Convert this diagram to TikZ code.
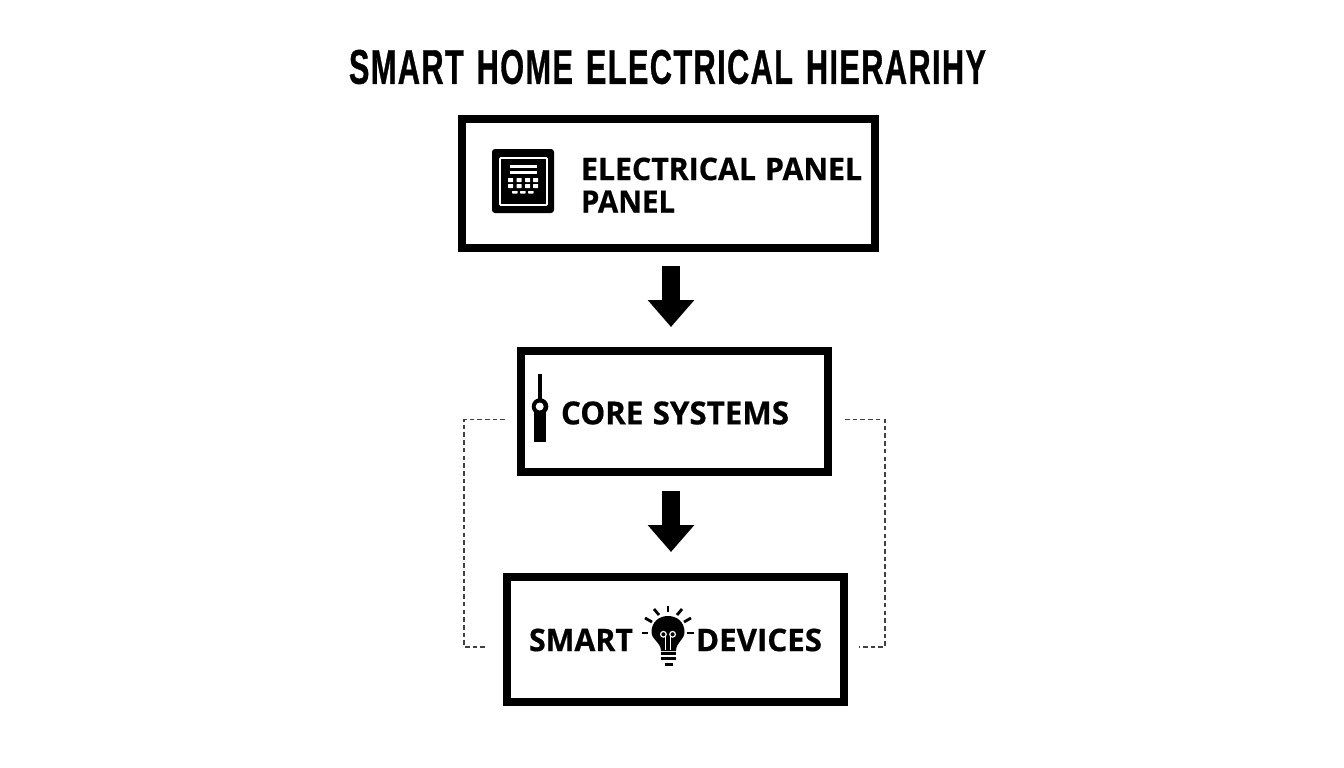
\documentclass[tikz,border=0pt]{standalone}
\usepackage{fontspec}
\usepackage{graphicx}
\setmainfont[WordSpace=1.15,FakeBold=0.6]{Open Sans}
\newfontfamily\titlefont[LetterSpace=4.5,WordSpace=1.3,FakeBold=1]{Liberation Sans}
\usetikzlibrary{arrows.meta}
\newcommand{\fitted}[3]{\resizebox{#1pt}{#2pt}{\bfseries #3}}
\tikzset{
  tier/.style={draw=black,line width=8pt,fill=white,inner sep=0pt,minimum width=#1},
  label/.style={inner sep=0pt,outer sep=0pt,text=black},
  flow/.style={line width=18pt,draw=black,-{Triangle[width=45pt,length=27pt]}},
  link/.style={draw=black!75,line width=1.1pt,dash pattern=on 4.6pt off 3.1pt},
  ray/.style={draw=black,line width=2.8pt},
  wire/.style={draw=white,line width=1.2pt},
  base/.style={draw=black,line width=3pt},
  key/.style={fill=white,rounded corners=0.5pt}
}
\begin{document}
\begin{tikzpicture}[x=1pt,y=-1pt]
\useasboundingbox (0,0) rectangle (1344,768);
\fill[white] (0,0) rectangle (1344,768);

% title
\node[label] (title) at (667.5,67) {\resizebox{637pt}{34pt}{\titlefont\bfseries SMART HOME ELECTRICAL HIERARIHY}};

% tiers
\node[tier=413pt,minimum height=129pt] (panel) at (668.5,183.5) {};
\node[tier=307pt,minimum height=121pt] (core) at (674.5,411.5) {};
\node[tier=337pt,minimum height=125pt] (devices) at (675.5,639.5) {};

% connectors
\draw[flow,shorten <=14pt,shorten >=20pt] (panel.south -| 671,0) -- (core.north -| 671,0);
\draw[flow,shorten <=15pt,shorten >=21pt] (core.south -| 671,0) -- (devices.north -| 671,0);
\draw[link,shorten <=12pt,shorten >=15pt] ([yshift=-8pt]core.west) -- ++(-53,0) |- ([yshift=-7.5pt]devices.west);
\draw[link,shorten <=13pt,shorten >=11pt] ([yshift=-8pt]core.east) -- ++(53,0) |- ([yshift=-7.5pt]devices.east);

% labels
\node[label,anchor=west] (l1) at (581,169) {\fitted{281}{22.5}{ELECTRICAL PANEL}};
\node[label,anchor=west] (l2) at (581,201.5) {\fitted{94}{22}{PANEL}};
\node[label,anchor=west] (l3) at (561,413) {\fitted{228}{23}{CORE SYSTEMS}};
\node[label,anchor=west] (l4) at (529,640) {\fitted{104}{22.5}{SMART}};
\node[label,anchor=west] (l5) at (696,640) {\fitted{126}{22.5}{DEVICES}};

% panel icon
\fill[black,rounded corners=3pt] (492,149) rectangle (554,213);
\draw[white,line width=1.8pt,rounded corners=1pt] (500,158) rectangle (547,205);
\fill[white] (510,165) rectangle (537,168);
\fill[white] (510,171) rectangle (537,173.5);
\foreach \x in {508,516.5,525,533}{
  \fill[key] (\x,178) rectangle ++(5,4);
  \fill[key] (\x,184) rectangle ++(5,4);
}
\foreach \x in {512,520,528}{
  \fill[key] (\x,191) rectangle ++(5.5,2.5);
}

% core icon
\fill[black] (538.2,374) rectangle (541.8,402);
\fill[black] (534,408) rectangle (546,442);
\fill[black] (540,406.5) circle (8.3);
\fill[white] (539.7,406.5) circle (4);

% bulb icon
\fill[black] (661,651)
  .. controls (661,642) and (651.5,640) .. (651.5,632)
  .. controls (651.5,622) and (659,616) .. (668,616)
  .. controls (677,616) and (684.5,622) .. (684.5,632)
  .. controls (684.5,640) and (676,642) .. (676,651) -- cycle;
\draw[wire] (663.4,634.3) circle (2.8);
\draw[wire] (672.6,634.3) circle (2.8);
\draw[wire] (665.8,636.5) -- (665.8,650);
\draw[wire] (670.2,636.5) -- (670.2,650);
\draw[base] (661,653.5) -- (676,653.5);
\draw[base] (661,658.5) -- (676,658.5);
\draw[base] (664.5,664) -- (672.5,664);
\draw[ray] (668,606) -- (668,612);
\draw[ray] (654,609) -- (659,615);
\draw[ray] (682,609) -- (677,615);
\draw[ray] (645,618) -- (652,622);
\draw[ray] (691,618) -- (684,622);
\draw[ray] (642,633) -- (648,633);
\draw[ray] (687,633) -- (694,633);
\end{tikzpicture}
\end{document}
